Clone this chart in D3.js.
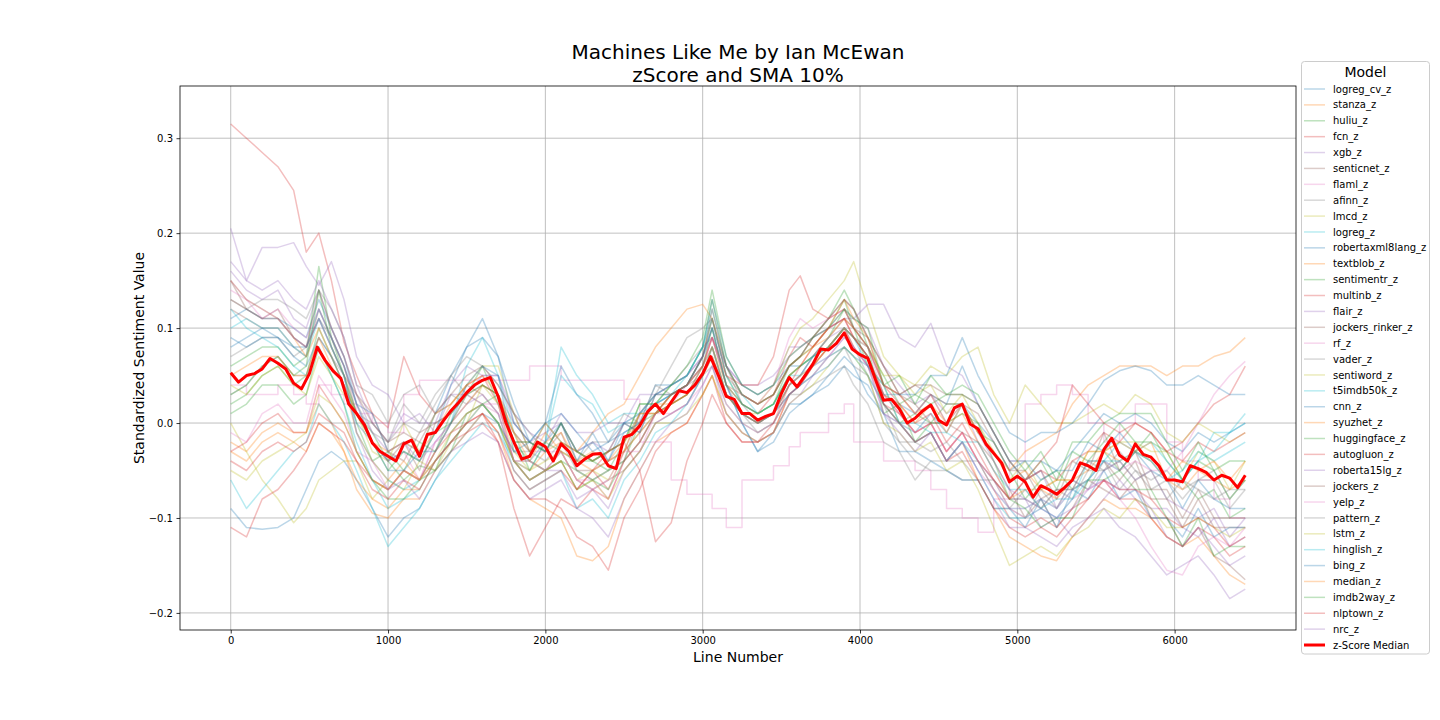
<!DOCTYPE html>
<html><head><meta charset="utf-8">
<script src="https://cdn.jsdelivr.net/npm/d3@7"></script>
<style>body{margin:0;background:#fff}svg{font-family:"DejaVu Sans",sans-serif}</style>
</head><body><svg id="c" width="1440" height="720"></svg>
<script>
// ---------------- DATA ----------------
const chartTitle = ["Machines Like Me by Ian McEwan", "zScore and SMA 10%"];
const xLabel = "Line Number";
const yLabel = "Standardized Sentiment Value";
const legendTitle = "Model";
const xTicks = [0, 1000, 2000, 3000, 4000, 5000, 6000];
const yTicks = [-0.2, -0.1, 0.0, 0.1, 0.2, 0.3];

// line numbers at which the model series were read
const lineNumbers = [0,100,200,300,400, 480,560,640,720, 800,900,1000,1100,1200,1300,1400,1500,1600,1700,
 1800,1900,2000,2100,2200,2300,2400,2500,2600,2700, 2800,2900,3000,3060, 3150,3250,3350,3450,3550,
 3620,3700,3800,3900,3960, 4050,4150,4250,4350,4450,4550,4650,4750,4850,4950,
 5050,5150,5250,5350,5450,5550,5650,5750,5850,5950, 6050,6150,6250,6350,6449];

const logreg_cv_z = [-.090,-.110,-.112,-.110,-.100, -.070,-.040,-.030,-.040, -.060,-.090,-.120,-.100,-.090,-.060,-.030,-.010,.010,.000,
 -.030,-.040,-.020,.000,-.030,-.020,-.040,-.010,.000,.020, .030,.040,.070,.100, .040,.000,-.030,-.010,.020,
 .020,.030,.040,.060,.050, .040,.010,.000,-.010,.010,-.010,.020,.000,-.020,-.050,
 -.040,-.040,-.050,-.030,-.010,.010,.000,.010,.000,-.020, -.030,-.010,-.020,-.010,.000];
const stanza_z = [-.020,-.030,-.010,.000,-.010, -.010,.020,.000,-.030, -.070,-.095,-.100,-.080,-.080,-.050,-.030,-.010,.010,-.010,
 -.060,-.080,-.090,-.100,-.140,-.145,-.130,-.080,-.050,-.020, -.010,.000,.030,.050, .010,-.010,-.020,-.010,.030,
 .040,.060,.080,.100,.090, .070,.020,.000,-.020,-.010,-.040,-.020,-.060,-.090,-.120,
 -.130,-.140,-.145,-.120,-.100,-.080,-.090,-.090,-.100,-.120, -.130,-.120,-.140,-.160,-.170];
const huliu_z = [.020,.030,.050,.060,.040, .050,.100,.070,.040, .010,-.010,-.040,-.060,-.045,-.050,-.010,.010,.020,.030,
 -.020,-.040,-.050,-.040,-.050,-.060,-.050,-.040,.000,.010, .030,.040,.070,.110, .050,.020,.010,.020,.060,
 .070,.080,.100,.130,.100, .060,.040,.000,.010,.000,.020,.020,-.010,-.020,-.050,
 -.080,-.060,-.050,-.070,-.060,-.030,-.050,-.030,-.010,-.040, -.060,-.080,-.070,-.100,-.090];
const fcn_z = [.315,.300,.285,.270,.245, .180,.200,.150,.085, .050,.010,-.005,.070,.030,.010,.020,.040,.050,.020,
 -.040,-.060,-.050,-.040,-.070,-.050,-.070,-.030,-.010,.010, .030,.040,.060,.090, .040,.020,.010,.030,.070,
 .090,.080,.100,.110,.090, .070,.030,.010,-.010,.000,-.030,-.010,-.040,-.060,-.080,
 -.060,-.050,-.060,-.040,-.030,-.010,-.020,.000,-.010,-.030, -.020,.000,.020,.030,.060];
const xgb_z = [.205,.150,.185,.185,.190, .165,.145,.170,.130, .070,.040,.030,.000,.010,-.010,.030,.030,.050,.050,
 .010,-.010,-.020,.010,-.010,-.010,.000,.000,.030,.030, .040,.050,.070,.100, .060,.040,.030,.040,.080,
 .080,.090,.100,.110,.110, .100,.060,.040,.020,.030,.010,.020,-.020,-.050,-.080,
 -.080,-.110,-.100,-.120,-.100,-.080,-.060,-.080,-.090,-.090, -.110,-.120,-.100,-.130,-.120];
const senticnet_z = [.150,.120,.110,.120,.090, .080,.110,.080,.050, .030,.010,-.030,-.040,-.010,.000,.010,.040,.030,.010,
 -.040,-.040,-.050,-.030,-.060,-.070,-.060,-.050,-.030,.000, .010,.020,.050,.080, .030,.010,.000,.010,.040,
 .050,.070,.090,.110,.100, .090,.040,.030,.020,.000,.000,-.010,-.020,-.040,-.070,
 -.100,-.080,-.110,-.090,-.060,-.070,-.080,-.060,-.100,-.100, -.130,-.110,-.140,-.150,-.165];
const flaml_z = [.040,.030,.030,.040,.030, .020,.040,.030,.020, .010,.000,-.010,.030,.045,.045,.045,.045,.045,.045,
 .045,.060,.060,.045,.045,.045,.045,.025,-.020,-.020, -.060,-.075,-.075,-.090, -.110,-.060,-.060,-.045,-.025,
 -.010,-.010,.010,.020,-.020, -.020,-.040,-.040,-.050,-.070,-.090,-.100,-.115,-.080,-.040,
 .020,.030,.040,.030,.000,-.020,.000,.020,.020,-.020, -.040,-.060,-.080,-.100,-.100];
const afinn_z = [.130,.120,.130,.130,.120, .110,.140,.120,.090, .040,.030,.000,.030,.040,.010,.030,.020,.040,.030,
 .000,-.020,-.030,.000,-.030,-.040,-.030,-.020,.010,.030, .040,.060,.080,.090, .040,.010,-.010,.000,.030,
 .040,.060,.080,.100,.080, .050,.020,-.020,-.020,-.030,-.020,-.040,-.040,-.060,-.080,
 -.080,-.090,-.070,-.080,-.050,-.050,-.030,-.050,-.060,-.050, -.070,-.060,-.050,-.080,-.060];
const lmcd_z = [.000,-.030,-.060,-.080,-.105, -.090,-.060,-.050,-.040, -.040,-.080,-.060,-.070,-.040,-.050,-.020,.000,.040,.020,
 -.030,-.050,-.040,-.030,-.060,-.050,-.060,-.030,-.010,.010, .020,.030,.050,.080, .040,.030,.020,.040,.080,
 .100,.110,.130,.150,.170, .120,.070,.050,.030,.040,.010,.030,.000,-.030,-.060,
 -.040,-.070,-.060,-.060,-.030,-.030,-.020,-.020,-.030,-.030, -.060,-.030,-.040,-.070,-.040];
const logreg_z = [-.060,-.090,-.070,-.050,-.030, -.020,.020,.000,-.020, -.050,-.090,-.130,-.110,-.090,-.060,-.040,-.020,.000,-.010,
 -.040,-.050,-.020,.080,.050,.030,.000,.010,.010,.020, .030,.050,.080,.110, .050,.020,.010,.020,.050,
 .050,.060,.070,.080,.070, .050,.020,.000,-.020,-.010,-.040,-.020,-.040,-.070,-.090,
 -.090,-.080,-.090,-.070,-.060,-.040,-.050,-.030,-.040,-.060, -.050,-.030,-.040,-.030,-.020];
const robertaxml8lang_z = [.110,.120,.110,.110,.100, .090,.130,.100,.070, .020,.010,-.030,-.020,-.030,.010,.050,.080,.090,.070,
 .020,-.020,.000,.010,-.010,-.030,-.020,.000,.000,.040, .040,.050,.080,.130, .070,.040,.030,.040,.060,
 .060,.070,.080,.100,.090, .070,.030,.020,.010,.030,.020,.060,.020,-.010,-.040,
 -.040,-.060,-.050,-.050,-.020,-.030,-.010,-.030,-.050,-.060, -.090,-.060,-.080,-.090,-.090];
const textblob_z = [-.030,-.040,-.020,-.010,-.020, -.030,.000,-.010,-.030, -.060,-.080,-.090,-.070,-.070,-.040,-.020,.000,.020,.000,
 -.040,-.050,-.030,-.020,-.030,-.010,.010,.020,.050,.080, .100,.120,.125,.110, .060,.030,.020,.030,.060,
 .070,.080,.090,.110,.100, .080,.040,.030,.010,.020,.000,.010,-.020,-.050,-.080,
 -.070,-.070,-.080,-.060,-.050,-.030,-.040,-.030,-.040,-.060, -.070,-.050,-.060,-.070,-.060];
const sentimentr_z = [.060,.070,.080,.080,.060, .070,.165,.090,.050, .000,-.040,-.030,-.050,-.020,-.030,.010,.030,.060,.020,
 -.010,-.050,-.020,-.030,-.040,-.040,-.050,-.020,.020,.020, .040,.050,.080,.130, .060,.030,.020,.030,.060,
 .070,.090,.110,.140,.120, .080,.050,.020,.030,.020,.030,.030,.020,-.010,-.040,
 -.060,-.040,-.070,-.030,-.040,-.020,.000,-.020,-.020,-.030, -.060,-.040,-.050,-.080,-.060];
const multinb_z = [-.110,-.120,-.080,-.070,-.050, -.030,.000,-.010,-.020, -.040,-.060,-.070,-.050,-.060,-.040,-.020,-.010,.000,-.020,
 -.060,-.080,-.080,-.090,-.120,-.130,-.155,-.100,-.070,-.030, -.010,.000,.030,.050, .000,-.020,-.020,-.010,.030,
 .040,.060,.080,.100,.080, .060,.020,.010,-.010,.000,-.030,-.010,-.040,-.070,-.100,
 -.110,-.100,-.110,-.090,-.080,-.060,-.080,-.080,-.100,-.120, -.130,-.110,-.120,-.140,-.130];
const flair_z = [.170,.150,.140,.150,.130, .120,.150,.120,.090, .040,.000,-.020,.010,.000,.000,.040,.060,.050,.050,
 .000,-.020,-.010,.000,-.030,-.020,-.030,.000,.010,.030, .040,.050,.070,.090, .060,.040,.040,.050,.070,
 .080,.090,.100,.120,.110, .125,.125,.090,.080,.105,.060,.050,.020,-.010,-.040,
 -.060,-.050,-.090,-.060,-.070,-.050,-.040,-.060,-.050,-.080, -.090,-.100,-.090,-.120,-.100];
const jockers_rinker_z = [.120,.110,.100,.100,.080, .070,.120,.090,.060, .010,-.020,-.040,-.020,-.050,.000,.010,.030,.040,.030,
 -.020,-.020,-.030,-.010,-.050,-.050,-.040,-.030,.010,.010, .030,.040,.070,.110, .050,.030,.020,.030,.060,
 .070,.090,.110,.130,.120, .090,.060,.030,.040,.030,.020,.020,.010,-.020,-.050,
 -.050,-.080,-.070,-.070,-.040,-.040,-.060,-.040,-.080,-.080, -.110,-.080,-.110,-.110,-.110];
const rf_z = [.140,.130,.110,.120,.100, .090,.120,.090,.060, .020,-.020,-.040,-.030,-.060,-.020,.000,.030,.020,.010,
 -.010,-.030,-.030,-.030,-.060,-.060,-.080,-.040,-.020,.010, .020,.040,.060,.090, .040,.030,.020,.040,.090,
 .110,.100,.110,.120,.100, .080,.030,.010,-.010,.000,-.030,-.010,-.040,-.060,-.090,
 -.090,-.080,-.090,-.070,-.060,-.040,-.050,-.040,-.050,-.050, -.030,.000,.030,.050,.065];
const vader_z = [.070,.080,.090,.090,.070, .080,.110,.090,.060, .020,-.010,-.020,.020,.000,.030,.050,.030,.020,.000,
 -.030,-.030,-.040,-.020,-.050,-.060,-.050,-.040,.010,.030, .060,.090,.100,.110, .060,.020,.000,.010,.030,
 .040,.050,.070,.080,.060, .050,.000,-.020,-.040,-.050,-.050,-.060,-.060,-.090,-.090,
 -.100,-.070,-.090,-.060,-.070,-.040,-.070,-.050,-.070,-.060, -.080,-.060,-.060,-.090,-.070];
const sentiword_z = [.040,.030,.050,.060,.040, .030,.070,.050,.030, .010,-.030,-.040,.000,-.030,.010,.020,.040,.060,.060,
 .010,-.030,.000,-.020,-.030,-.040,-.030,-.020,.010,.010, .020,.030,.050,.070, .030,.010,.010,.020,.050,
 .060,.070,.080,.100,.090, .080,.050,.050,.040,.060,.050,.070,.080,.030,.000,
 .040,.020,.000,.000,.010,.020,.010,.030,.020,-.010, -.020,.000,-.010,-.020,-.010];
const t5imdb50k_z = [.100,.110,.100,.100,.080, .070,.110,.080,.050, -.010,-.040,-.060,-.070,-.060,-.030,.000,.060,.090,.050,
 -.010,-.030,-.020,.050,.030,.020,-.010,.000,.010,.030, .040,.050,.080,.120, .060,.030,.010,.020,.050,
 .060,.070,.080,.100,.090, .060,.040,.000,.000,-.010,-.010,-.020,-.020,-.050,-.070,
 -.070,-.090,-.080,-.080,-.040,-.040,-.020,-.030,-.020,-.040, -.060,-.040,-.010,-.010,.010];
const cnn_z = [.080,.090,.100,.090,.080, .080,.120,.090,.060, .020,-.020,-.040,-.030,-.040,-.010,.040,.080,.110,.070,
 .000,-.020,.000,.060,.030,.010,-.020,-.010,.000,.020, .030,.040,.070,.100, .040,.000,-.030,-.020,.010,
 .020,.030,.050,.070,.060, .030,.010,-.030,-.030,-.040,-.050,-.060,-.060,-.090,-.090,
 -.110,-.080,-.110,-.070,-.080,-.050,-.080,-.070,-.100,-.100, -.120,-.090,-.120,-.110,-.110];
const syuzhet_z = [.150,.130,.120,.110,.090, .070,.100,.070,.040, -.010,-.040,-.060,-.040,-.060,-.030,.000,.020,.040,.030,
 -.010,-.030,-.020,-.010,-.040,-.030,-.040,-.020,.000,.020, .020,.030,.050,.070, .030,.010,.000,.010,.050,
 .060,.080,.100,.130,.110, .090,.040,.030,.010,.030,.000,.020,-.010,-.030,-.050,
 -.030,-.020,-.010,.020,.040,.050,.060,.060,.060,.050, .060,.060,.070,.075,.090];
const huggingface_z = [.010,.020,.040,.040,.020, .030,.080,.050,.020, -.030,-.060,-.080,-.080,-.060,-.050,-.030,.010,.020,.000,
 -.040,-.060,-.050,-.040,-.070,-.060,-.070,-.040,-.020,.010, .020,.030,.060,.100, .040,.020,.010,.020,.050,
 .060,.070,.090,.120,.100, .080,.010,.020,-.020,.000,.000,.010,.000,-.040,-.080,
 -.090,-.110,-.100,-.100,-.060,-.060,-.050,-.070,-.070,-.100, -.130,-.100,-.140,-.130,-.130];
const autogluon_z = [-.030,-.020,.000,.010,-.010, -.010,.040,.020,.000, -.030,-.060,-.070,-.050,-.060,-.030,-.010,.000,.010,-.020,
 -.090,-.140,-.110,-.080,-.090,-.070,-.080,-.040,-.020,.010, .020,.030,.060,.090, .050,.040,.040,.070,.140,
 .155,.120,.110,.120,.100, .080,.040,.020,.000,.010,-.020,.000,-.030,-.060,-.080,
 -.060,-.040,-.020,.040,.020,.000,-.010,.000,-.010,-.030, -.040,-.020,-.030,-.020,-.010];
const roberta15lg_z = [.160,.140,.130,.140,.110, .100,.140,.100,.070, .030,-.010,-.030,-.020,-.040,-.020,.000,.020,.030,.010,
 -.040,-.060,-.050,-.050,-.080,-.070,-.090,-.050,-.030,.000, .010,.020,.050,.070, .030,.010,.000,.010,.040,
 .050,.070,.090,.100,.090, .080,.040,.030,.010,.030,.000,.020,-.010,-.040,-.070,
 -.080,-.090,-.100,-.090,-.070,-.060,-.070,-.070,-.090,-.120, -.130,-.110,-.130,-.150,-.140];
const jockers_z = [.130,.120,.110,.110,.090, .080,.140,.100,.070, .030,.000,-.020,-.010,-.020,.010,.030,.050,.060,.040,
 .010,-.030,.000,-.020,-.030,-.040,-.030,.000,-.010,.030, .030,.040,.070,.120, .060,.030,.020,.030,.060,
 .070,.090,.110,.130,.120, .090,.060,.030,.040,.040,.030,.030,.020,-.010,-.040,
 -.060,-.050,-.080,-.040,-.050,-.010,-.050,-.030,-.070,-.070, -.100,-.070,-.100,-.100,-.100];
const yelp_z = [-.010,-.020,.010,.020,.000, .000,.050,.030,.010, -.030,-.040,-.070,-.050,-.060,-.020,-.010,.010,.020,.020,
 -.040,-.040,-.050,-.030,-.060,-.070,-.060,-.030,-.030,.010, .010,.020,.040,.060, .020,.000,-.010,.000,.030,
 .040,.060,.070,.090,.080, .060,.010,.000,-.020,-.010,-.040,-.020,-.050,-.070,-.090,
 -.100,-.090,-.100,-.080,-.070,-.060,-.080,-.100,-.130,-.155, -.160,-.130,-.120,-.130,-.110];
const pattern_z = [.030,.040,.060,.070,.050, .050,.090,.070,.050, .010,.000,-.020,.000,-.010,.020,.050,.070,.060,.040,
 .010,-.010,-.030,.000,-.040,-.020,-.020,.010,.000,.040, .030,.040,.050,.060, .020,.000,-.010,.000,.030,
 .030,.040,.050,.060,.040, .020,-.020,-.030,-.060,-.040,-.040,-.040,-.060,-.060,-.090,
 -.070,-.090,-.070,-.070,-.040,-.050,-.040,-.060,-.050,-.080, -.060,-.070,-.080,-.070,-.070];
const lstm_z = [-.050,-.060,-.040,-.030,-.020, -.010,.030,.020,.000, -.030,-.060,-.070,-.050,-.060,-.040,-.010,.010,.020,.000,
 -.040,-.060,-.050,-.040,-.070,-.060,-.080,-.050,-.030,.000, .000,.010,.030,.050, .010,-.010,-.020,-.010,.020,
 .030,.040,.060,.080,.070, .050,.000,-.010,-.030,-.020,-.050,-.040,-.070,-.110,-.150,
 -.140,-.130,-.140,-.120,-.110,-.090,-.100,-.080,-.090,-.110, -.110,-.100,-.110,-.120,-.110];
const hinglish_z = [.120,.100,.090,.080,.060, .050,.080,.050,.020, -.020,-.060,-.090,-.080,-.070,-.040,-.020,.000,.020,.000,
 -.050,-.070,-.060,-.050,-.090,-.080,-.100,-.060,-.040,-.010, .000,.020,.050,.080, .030,.010,.000,.010,.040,
 .050,.070,.080,.100,.090, .070,.020,.000,-.020,-.010,-.040,-.020,-.050,-.080,-.100,
 -.100,-.090,-.100,-.080,-.060,-.040,-.040,-.030,-.040,-.060, -.060,-.040,-.030,-.010,.000];
const bing_z = [.090,.080,.090,.090,.070, .060,.090,.070,.040, .000,-.020,-.050,-.050,-.030,-.030,.000,.040,.060,.050,
 -.030,-.020,-.030,.000,-.040,-.010,-.040,.000,-.010,.030, .030,.040,.060,.080, .030,.010,.000,.010,.030,
 .040,.050,.060,.080,.070, .060,.030,.030,.030,.050,.050,.090,.050,.020,-.010,
 -.020,-.010,-.010,.000,.020,.045,.055,.060,.055,.040, .040,.050,.040,.030,.030];
const median_z = [.050,.060,.070,.070,.050, .050,.090,.060,.040, .010,-.020,-.030,-.020,-.030,-.010,.020,.040,.050,.030,
 -.010,-.040,-.010,-.030,-.040,-.050,-.040,-.030,.010,.010, .030,.040,.060,.080, .030,.010,.000,.010,.040,
 .050,.060,.080,.100,.090, .070,.030,.020,.000,.020,-.010,.020,-.010,-.030,-.060,
 -.050,-.070,-.060,-.060,-.030,-.030,-.020,-.030,-.020,-.060, -.040,-.050,-.040,-.060,-.040];
const imdb2way_z = [.030,.040,.060,.070,.050, .060,.140,.080,.050, .010,-.020,-.050,-.030,-.040,-.010,.000,.030,.040,.030,
 -.020,-.020,-.030,.000,-.030,-.040,-.030,-.020,.020,.020, .040,.060,.090,.140, .070,.040,.030,.040,.070,
 .080,.090,.100,.120,.110, .100,.040,.050,.020,.050,.030,.040,.030,.000,-.030,
 -.050,-.030,-.060,-.020,-.020,.000,.010,.010,.010,-.020, -.050,-.020,-.050,-.040,-.040];
const nlptown_z = [-.040,-.050,-.030,-.020,-.030, -.020,.010,.000,-.010, -.040,-.070,-.080,-.060,-.070,-.040,-.020,.000,.010,-.010,
 -.050,-.070,-.060,-.050,-.070,-.050,-.030,-.020,-.050,-.125, -.105,-.040,.000,.030, .000,-.020,-.020,.000,.040,
 .060,.080,.100,.110,.090, .070,.020,.000,-.020,-.010,-.040,-.030,-.060,-.090,-.110,
 -.120,-.110,-.120,-.100,-.080,-.060,-.070,-.070,-.080,-.100, -.110,-.100,-.110,-.130,-.120];
const nrc_z = [.150,.130,.120,.110,.090, .080,.110,.080,.050, -.010,-.050,-.070,-.060,-.080,-.050,-.030,-.020,-.010,-.020,
 -.060,-.080,-.070,-.060,-.090,-.100,-.120,-.080,-.050,-.020, .000,.010,.040,.060, .010,-.010,-.020,-.010,.020,
 .030,.050,.070,.090,.080, .060,.010,-.010,-.030,-.010,-.040,-.020,-.050,-.080,-.110,
 -.110,-.120,-.130,-.110,-.100,-.090,-.110,-.120,-.140,-.160, -.150,-.140,-.160,-.185,-.175];

// z-Score Median (bold red line), read every 50 lines
const medianLineNumbers = [0,50,100,150,200,250,300,350,400,450,500,550,600,650,700,750,800,850,900,950,
 1000,1050,1100,1150,1200,1250,1300,1350,1400,1450,1500,1550,1600,1650,1700,1750,1800,1850,1900,1950,
 2000,2050,2100,2150,2200,2250,2300,2350,2400,2450,2500,2550,2600,2650,2700,2750,2800,2850,2900,2950,
 3000,3050,3100,3150,3200,3250,3300,3350,3400,3450,3500,3550,3600,3650,3700,3750,3800,3850,3900,3950,
 4000,4050,4100,4150,4200,4250,4300,4350,4400,4450,4500,4550,4600,4650,4700,4750,4800,4850,4900,4950,
 5000,5050,5100,5150,5200,5250,5300,5350,5400,5450,5500,5550,5600,5650,5700,5750,5800,5850,5900,5950,
 6000,6050,6100,6150,6200,6250,6300,6350,6400,6449];
const zScoreMedian = [.053,.043,.050,.052,.057,.068,.063,.057,.042,.036,.052,.080,.066,.055,.047,.020,.010,-.002,-.021,-.030,
 -.035,-.040,-.022,-.018,-.035,-.012,-.010,.002,.013,.022,.032,.040,.045,.048,.028,.000,-.020,-.038,-.035,-.020,
 -.025,-.040,-.022,-.030,-.045,-.038,-.033,-.032,-.045,-.048,-.015,-.012,-.003,.012,.020,.010,.022,.034,.032,.040,
 .052,.070,.050,.028,.025,.010,.010,.003,.007,.010,.031,.048,.038,.050,.062,.078,.077,.084,.095,.078,
 .072,.068,.045,.024,.025,.015,.000,.005,.013,.019,.003,-.002,.016,.020,-.001,-.006,-.022,-.032,-.042,-.062,
 -.056,-.062,-.078,-.066,-.070,-.075,-.068,-.060,-.042,-.045,-.050,-.028,-.016,-.034,-.040,-.022,-.033,-.036,-.045,-.060,
 -.060,-.062,-.045,-.048,-.052,-.060,-.055,-.058,-.068,-.055];

const modelNames = ["logreg_cv_z","stanza_z","huliu_z","fcn_z","xgb_z","senticnet_z","flaml_z","afinn_z","lmcd_z","logreg_z",
 "robertaxml8lang_z","textblob_z","sentimentr_z","multinb_z","flair_z","jockers_rinker_z","rf_z","vader_z","sentiword_z","t5imdb50k_z",
 "cnn_z","syuzhet_z","huggingface_z","autogluon_z","roberta15lg_z","jockers_z","yelp_z","pattern_z","lstm_z","hinglish_z",
 "bing_z","median_z","imdb2way_z","nlptown_z","nrc_z"];
const modelValues = [logreg_cv_z,stanza_z,huliu_z,fcn_z,xgb_z,senticnet_z,flaml_z,afinn_z,lmcd_z,logreg_z,
 robertaxml8lang_z,textblob_z,sentimentr_z,multinb_z,flair_z,jockers_rinker_z,rf_z,vader_z,sentiword_z,t5imdb50k_z,
 cnn_z,syuzhet_z,huggingface_z,autogluon_z,roberta15lg_z,jockers_z,yelp_z,pattern_z,lstm_z,hinglish_z,
 bing_z,median_z,imdb2way_z,nlptown_z,nrc_z];
const stepModels = ["flaml_z"];
const medianLabel = "z-Score Median";

// ---------------- DRAW ----------------
const FONT = "DejaVu Sans";
const svg = d3.select("#c");
const X0 = 180, X1 = 1296, Y0 = 86, Y1 = 630;
const x = d3.scaleLinear().domain([-322.45, 6771.45]).range([X0, X1]);
const y = d3.scaleLinear().domain([-0.218, 0.355]).range([Y1, Y0]);
const palette = d3.schemeCategory10;

modelValues.forEach((v, i) => { if (v.length !== lineNumbers.length) console.warn(modelNames[i], v.length); });

// grid
const grid = svg.append("g");
grid.selectAll("line.gx").data(xTicks).join("line").attr("class","gx")
  .attr("x1", d => x(d)).attr("x2", d => x(d)).attr("y1", Y0).attr("y2", Y1)
  .attr("stroke", "#b0b0b0").attr("stroke-width", 0.8);
grid.selectAll("line.gy").data(yTicks).join("line").attr("class","gy")
  .attr("y1", d => y(d)).attr("y2", d => y(d)).attr("x1", X0).attr("x2", X1)
  .attr("stroke", "#b0b0b0").attr("stroke-width", 0.8);

svg.append("defs").append("clipPath").attr("id", "clip").append("rect")
  .attr("x", X0).attr("y", Y0).attr("width", X1 - X0).attr("height", Y1 - Y0);

const plot = svg.append("g").attr("clip-path", "url(#clip)");
const line = d3.line().x((d, i) => x(lineNumbers[i])).y(d => y(d));
const stepLine = d3.line().curve(d3.curveStepAfter).x((d, i) => x(lineNumbers[i])).y(d => y(d));

modelValues.forEach((vals, i) => {
  plot.append("path")
    .attr("d", (stepModels.includes(modelNames[i]) ? stepLine : line)(vals))
    .attr("fill", "none").attr("stroke", palette[i % 10])
    .attr("stroke-opacity", 0.3).attr("stroke-width", 1.5)
    .attr("stroke-linejoin", "round");
});

const medLine = d3.line().x((d, i) => x(medianLineNumbers[i])).y(d => y(d));
plot.append("path").attr("d", medLine(zScoreMedian))
  .attr("fill", "none").attr("stroke", "#ff0000").attr("stroke-width", 3)
  .attr("stroke-linejoin", "round");

// spines
svg.append("rect").attr("x", X0).attr("y", Y0).attr("width", X1 - X0).attr("height", Y1 - Y0)
  .attr("fill", "none").attr("stroke", "#000").attr("stroke-width", 0.8);

// axes
function styleAxis(a) {
  a.select(".domain").remove();
  a.attr("font-family", FONT).attr("font-size", 10);
  a.selectAll(".tick line").attr("stroke", "#000").attr("stroke-width", 0.8);
  a.selectAll(".tick text").attr("fill", "#000");
}
svg.append("g").attr("transform", `translate(0,${Y1})`)
  .call(d3.axisBottom(x).tickValues(xTicks).tickFormat(d3.format("d")).tickSize(3.5).tickPadding(3.5))
  .call(styleAxis);
svg.append("g").attr("transform", `translate(${X0},0)`)
  .call(d3.axisLeft(y).tickValues(yTicks).tickFormat(d3.format(".1f")).tickSize(3.5).tickPadding(3.5))
  .call(styleAxis);

// labels
svg.append("text").attr("x", (X0 + X1) / 2).attr("y", 662).attr("text-anchor", "middle")
  .attr("font-size", 14).attr("fill", "#000").text(xLabel);
svg.append("text").attr("transform", `translate(144,${(Y0 + Y1) / 2}) rotate(-90)`).attr("text-anchor", "middle")
  .attr("font-size", 14).attr("fill", "#000").text(yLabel);

const title = svg.append("text").attr("text-anchor", "middle").attr("font-size", 20).attr("fill", "#000");
chartTitle.forEach((t, i) => title.append("tspan").attr("x", (X0 + X1) / 2).attr("y", 59 + i * 22.5).text(t));

// legend
const lg = svg.append("g");
lg.append("rect").attr("x", 1301.5).attr("y", 61.5).attr("width", 128).attr("height", 592.5).attr("rx", 3)
  .attr("fill", "#fff").attr("fill-opacity", 0.8).attr("stroke", "#cccccc").attr("stroke-width", 1);
lg.append("text").attr("x", 1365.5).attr("y", 76.5).attr("text-anchor", "middle").attr("font-size", 14)
  .attr("fill", "#000").text(legendTitle);
const entries = modelNames.map((n, i) => ({ name: n, color: palette[i % 10], op: 0.3, w: 1.5 }))
  .concat([{ name: medianLabel, color: "#ff0000", op: 1, w: 3 }]);
entries.forEach((e, i) => {
  const cy = 89 + i * 15.886;
  lg.append("line").attr("x1", 1304).attr("x2", 1325).attr("y1", cy).attr("y2", cy)
    .attr("stroke", e.color).attr("stroke-opacity", e.op).attr("stroke-width", e.w);
  lg.append("text").attr("x", 1333).attr("y", cy + 3.6).attr("font-size", 10).attr("fill", "#000").text(e.name);
});
</script>
</body></html>
